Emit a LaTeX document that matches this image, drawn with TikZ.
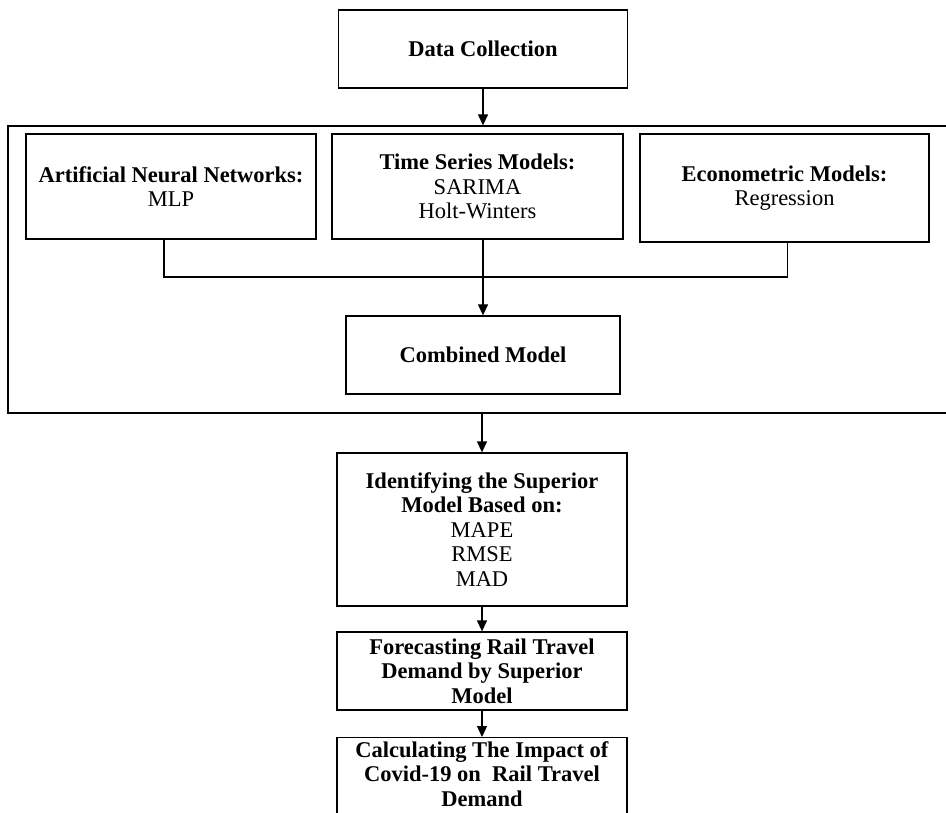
\documentclass[tikz,border=0pt]{standalone}
\usepackage{fontspec}
\setmainfont{Liberation Serif}
\usetikzlibrary{arrows.meta}

\tikzset{
  box/.style={draw=black, line width=1.3pt, align=center, inner sep=2pt},
  link/.style={line width=1.3pt},
  flow/.style={link, -{Triangle[length=11pt,width=10pt]}}
}

\begin{document}
\begin{tikzpicture}[x=1pt, y=-1pt, font=\fontsize{22.5}{24.5}\selectfont]
  \useasboundingbox (0,0) rectangle (946,813);
  \clip (0,0) rectangle (946,813);

  \node[box, minimum width=289, minimum height=78] (dc) at (483,49) {\textbf{Data Collection}};
  \node[box, minimum width=950, minimum height=287] (frame) at (483,269.5) {};

  \node[box, minimum width=290, minimum height=105] (ann) at (171,186.5) {\textbf{Artificial Neural Networks:}\\MLP};
  \node[box, minimum width=291, minimum height=105] (tsm) at (477.5,186.5) {\textbf{Time Series Models:}\\SARIMA\\Holt-Winters};
  \node[box, minimum width=289, minimum height=108] (econ) at (784.5,188) {\textbf{Econometric Models:}\\Regression};
  \node[box, minimum width=274, minimum height=78] (comb) at (483,355) {\textbf{Combined Model}};

  \node[box, minimum width=290, minimum height=153] (ident) at (482,529.5) {\textbf{Identifying the Superior}\\\textbf{Model Based on:}\\MAPE\\RMSE\\MAD};
  \node[box, minimum width=290, minimum height=78] (fore) at (482,671) {\textbf{Forecasting Rail Travel}\\\textbf{Demand by Superior}\\\textbf{Model}};
  % box runs past the lower edge of the page
  \node[box, minimum width=290, inner sep=4pt, anchor=north] (calc) at (482,737) {\textbf{Calculating The Impact of}\\\textbf{Covid-19 on\ \ Rail Travel}\\\textbf{Demand}\rule[-20pt]{0pt}{0pt}};

  \coordinate (merge) at (483,277);

  \draw[flow] (dc) -- (frame.north);
  \draw[link] ([xshift=-7pt]ann.south) |- (merge) -| ([xshift=3pt]econ.south);
  \draw[link] (merge |- tsm.south) -- (merge);
  \draw[flow] (merge) -- (comb.north);
  \draw[flow] (frame.south -| ident.north) -- (ident.north);
  \draw[flow] (ident) -- (fore);
  \draw[flow] (fore) -- (calc);
\end{tikzpicture}
\end{document}
